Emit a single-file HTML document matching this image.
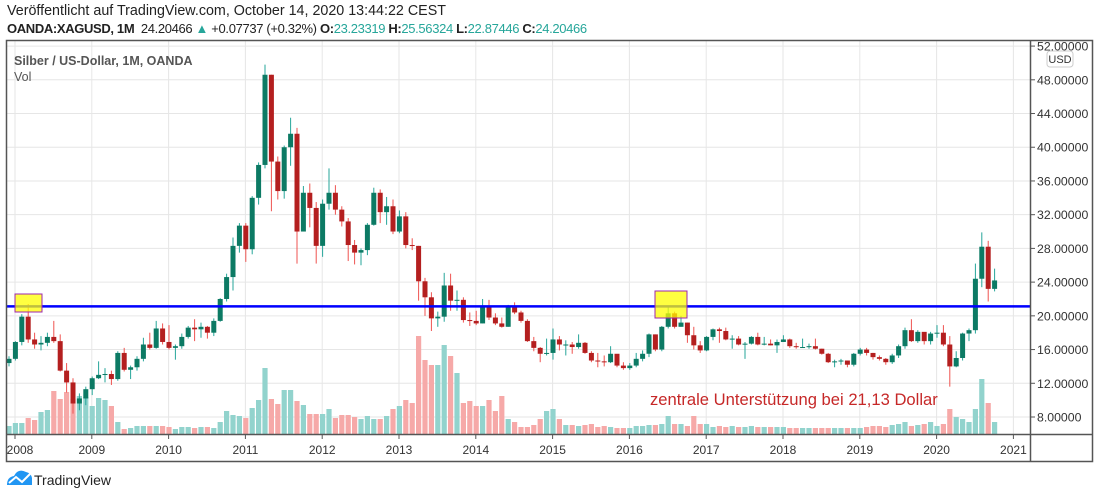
<!DOCTYPE html>
<html><head><meta charset="utf-8">
<style>
body{margin:0;width:1100px;height:498px;background:#fff;overflow:hidden;font-family:"Liberation Sans","DejaVu Sans",sans-serif;}
#hdr1{position:absolute;left:7px;top:3px;font-size:14.3px;color:#222;}
#hdr2{position:absolute;left:7px;top:21px;font-size:13px;letter-spacing:-0.35px;color:#222;}
#hdr2 b{font-weight:bold}
.g{color:#26a69a}
svg{position:absolute;left:0;top:0}
</style></head>
<body>
<div id="hdr1">Veröffentlicht auf TradingView.com, October 14, 2020 13:44:22 CEST</div>
<div id="hdr2"><b>OANDA:XAGUSD, 1M</b>&nbsp; 24.20466 <span class="g">▲</span> +0.07737 (+0.32%) <b>O:</b><span class="g">23.23319</span> <b>H:</b><span class="g">25.56324</span> <b>L:</b><span class="g">22.87446</span> <b>C:</b><span class="g">24.20466</span></div>
<svg id="chart" width="1100" height="498"></svg>
<script>
const closes=[14.9,
16.9,19.9,17.2,16.6,16.8,17.5,17.0,13.5,12.1,9.6,10.2,11.3,
12.6,13.0,13.1,12.5,15.6,13.6,13.9,14.9,16.6,16.2,18.5,16.9,
16.2,16.4,17.5,18.6,18.4,18.7,18.0,19.4,22.0,24.6,28.3,30.7,
27.9,34.0,37.9,48.6,38.3,34.8,40.0,41.6,30.0,34.6,32.8,28.3,
33.3,34.6,32.6,31.2,28.4,27.5,27.8,30.8,34.6,32.3,33.0,30.0,
31.8,28.4,28.3,24.1,22.2,19.7,19.9,23.6,21.8,21.9,19.5,19.4,
19.1,21.2,19.8,19.1,18.7,21.0,20.4,19.4,17.0,16.2,15.5,15.6,
17.2,16.6,16.6,16.3,16.8,15.6,14.7,14.6,14.5,15.5,14.1,13.8,
14.1,14.9,15.5,17.8,16.0,18.7,20.3,18.7,19.2,17.7,16.5,15.9,
17.5,18.4,18.2,17.2,17.3,16.6,16.7,17.5,16.6,16.7,16.5,16.9,
17.2,16.4,16.3,16.3,16.4,16.1,15.5,14.5,14.6,14.7,14.2,15.5,
16.0,15.6,15.1,14.9,14.5,15.3,16.4,18.3,17.0,18.1,17.0,17.9,
18.0,16.6,14.0,15.0,17.9,18.3,24.4,28.2,23.2,24.2];
const firstOpen=14.4;
const highs=[15.2,
17.0,20.2,21.4,18.0,17.6,18.0,19.4,17.8,14.4,12.6,10.8,11.6,
12.8,14.6,13.8,13.5,15.8,16.2,14.1,15.2,17.4,18.0,19.4,19.1,
18.9,16.6,17.9,18.8,19.6,19.2,18.8,19.7,22.1,25.0,29.3,31.0,
31.0,34.2,38.2,49.8,48.6,38.9,40.2,43.5,42.3,35.4,35.7,33.5,
33.8,37.5,35.5,33.0,31.6,29.0,28.0,31.0,35.2,35.0,34.1,33.8,
32.5,32.3,29.2,28.3,24.5,22.8,20.5,25.1,25.0,23.0,22.2,20.4,
20.6,22.0,21.9,20.3,19.8,21.3,21.6,20.6,19.6,17.5,16.3,17.3,
18.5,17.6,17.1,16.9,17.8,16.9,15.8,15.6,15.3,16.4,15.2,14.5,
14.4,15.6,15.9,17.9,17.8,18.8,21.1,20.5,20.0,19.2,18.7,17.0,
17.6,18.5,18.6,18.6,17.7,17.6,16.9,17.6,18.0,17.5,17.2,17.2,
17.7,17.3,16.8,17.3,16.7,17.3,16.1,15.6,14.8,14.9,14.7,15.6,
16.2,16.2,15.6,15.3,15.0,15.5,16.6,18.6,19.6,18.3,18.0,18.1,
18.9,18.9,17.6,15.8,18.0,18.5,26.2,29.9,28.9,25.6];
const lows=[14.0,
14.7,16.5,16.8,16.1,15.9,16.4,16.8,13.4,10.9,8.4,8.8,9.4,
10.6,12.5,12.1,11.8,12.3,13.4,12.5,13.5,14.6,16.0,16.1,16.6,
16.0,14.8,16.1,17.3,17.0,17.4,17.3,17.6,19.3,21.7,23.0,27.5,
26.4,27.3,33.2,37.5,32.4,33.8,33.9,37.8,26.2,30.2,30.5,26.2,
27.0,32.6,32.0,30.6,26.5,26.1,26.0,27.2,30.7,31.0,30.8,29.7,
29.8,28.0,27.8,21.8,20.0,18.2,18.7,19.3,20.6,20.6,19.2,18.8,
18.9,19.1,19.5,18.9,18.6,18.7,20.2,19.2,16.9,15.8,14.5,15.3,
14.8,15.9,15.3,15.5,16.1,15.5,14.5,13.9,14.0,14.4,13.9,13.6,
13.6,13.9,14.6,15.1,15.8,15.8,18.5,18.5,18.7,16.8,16.0,15.6,
15.8,17.1,16.8,17.1,16.1,16.5,14.9,16.6,16.5,16.5,16.5,15.6,
16.9,16.2,16.1,16.2,16.1,16.0,15.4,14.4,13.9,14.2,13.9,14.0,
15.3,15.3,14.8,14.7,14.2,14.3,15.0,16.1,16.9,16.8,16.6,16.6,
17.4,16.4,11.6,13.9,14.7,17.0,17.9,23.4,21.7,22.9];
const volumes=[8,
11,11,16,14,22,24,43,35,42,35,38,37,
28,36,34,28,12,5,6,8,8,8,8,8,
7,5,7,7,6,7,7,6,12,23,19,18,
16,26,34,66,35,30,44,44,33,29,20,20,
20,25,16,19,19,17,15,18,15,15,18,25,
28,34,31,98,74,69,69,89,78,61,31,33,
28,28,34,23,38,15,12,7,7,9,15,23,
25,15,9,9,8,9,10,7,8,7,6,6,
6,8,8,9,9,10,18,10,10,8,18,10,
10,7,8,7,8,7,7,8,7,7,7,7,
7,6,6,6,6,6,6,6,6,6,6,6,
6,7,8,8,7,9,10,12,8,9,10,12,
8,10,25,17,15,12,25,55,31,12];
const yearLabels=["2008","2009","2010","2011","2012","2013","2014","2015","2016","2017","2018","2019","2020","2021"];
const priceTicks=[8,12,16,20,24,28,32,36,40,44,48,52];
const supportLevel=21.13;

const NS="http://www.w3.org/2000/svg";
const svg=document.getElementById('chart');
const L=6,R=1030,T=40,B=434;
function xOf(i){return 9+i*6.4;}
function yOf(p){return 417-(p-8)*8.43;}
function vY(v){return 434-v;}
function mk(tag,attrs,parent){const e=document.createElementNS(NS,tag);for(const k in attrs)e.setAttribute(k,attrs[k]);(parent||svg).appendChild(e);return e;}
const grid=mk('g',{});


priceTicks.forEach(p=>{const y=yOf(p);if(y>T)mk('line',{x1:L,x2:R,y1:y,y2:y,stroke:'#e6e6e6','stroke-width':1},grid);});
yearLabels.forEach((t,k)=>{const x=xOf(k*12+1)-0.4;if(x<R)mk('line',{x1:x,x2:x,y1:T,y2:B,stroke:'#e6e6e6','stroke-width':1},grid);});
const vg=mk('g',{});


closes.forEach((c,i)=>{const o=i?closes[i-1]:firstOpen;const y=vY(volumes[i]);
const r=mk('rect',{x:xOf(i)-2.6,y:y,width:5.2,height:434-y,fill:c>=o?'#92d3cd':'#f6a9a8'},vg);

});
const cg=mk('g',{});


closes.forEach((c,i)=>{const o=i?closes[i-1]:firstOpen;const up=c>=o;const col=up?'#0c7a64':'#b41f1f';const x=xOf(i);
const g=mk('g',{},cg);


mk('line',{x1:x,x2:x,y1:yOf(highs[i]),y2:yOf(lows[i]),stroke:up?'#26a69a':'#ef5350','stroke-width':1},g);
const yt=yOf(Math.max(o,c)),yb=yOf(Math.min(o,c));
mk('rect',{x:x-2.5,y:yt,width:5,height:Math.max(1,yb-yt),fill:col},g);});
const sy=yOf(supportLevel);
const sl=mk('line',{x1:L,x2:R,y1:sy,y2:sy,stroke:'#0000ff','stroke-width':2.5});


const b1=mk('rect',{x:15,y:294,width:27,height:18,fill:'rgba(255,255,0,0.75)',stroke:'#9c27b0','stroke-width':1});


const b2=mk('rect',{x:655,y:291,width:32,height:27,fill:'rgba(255,255,0,0.75)',stroke:'#9c27b0','stroke-width':1});


const ann=mk('text',{x:650,y:405,fill:'#c62828','font-size':16.6,'font-family':'Liberation Sans, DejaVu Sans, sans-serif'});
ann.textContent='zentrale Unterstützung bei 21,13 Dollar';


const fr=mk('g',{});


mk('rect',{x:6.5,y:40.5,width:1086,height:421,fill:'none',stroke:'#555','stroke-width':1.5},fr);
mk('line',{x1:1030.5,x2:1030.5,y1:40,y2:462,stroke:'#555','stroke-width':1.5},fr);
mk('line',{x1:6,x2:1093,y1:434.5,y2:434.5,stroke:'#555','stroke-width':1.5},fr);
const ya=mk('g',{});


priceTicks.forEach(p=>{const y=yOf(p);mk('line',{x1:1030,x2:1035,y1:y,y2:y,stroke:'#555'},ya);
if(y>40){const t=mk('text',{x:1037,y:y+4.5,'font-size':12.3,fill:'#333','font-family':'Liberation Sans, DejaVu Sans, sans-serif'},ya);t.textContent=p.toFixed(5);

}});
mk('rect',{x:1047,y:51,width:26,height:16,rx:3,fill:'#fff',stroke:'#ccc'},ya);
const usd=mk('text',{x:1060,y:63,'font-size':11,fill:'#333','text-anchor':'middle','font-family':'Liberation Sans, sans-serif'},ya);usd.textContent='USD';


const xa=mk('g',{});


yearLabels.forEach((t,k)=>{const x=xOf(k*12+1)-0.4;mk('line',{x1:x,x2:x,y1:434,y2:439,stroke:'#555'},xa);
const tx=mk('text',{x:Math.max(x,20),y:454,'font-size':12,fill:'#333','text-anchor':'middle','font-family':'Liberation Sans, sans-serif'},xa);tx.textContent=t;

});
const t1=mk('text',{x:14,y:65,'font-size':12.5,'font-weight':'bold',fill:'#555','font-family':'Liberation Sans, sans-serif'});t1.textContent='Silber / US-Dollar, 1M, OANDA';


const t2=mk('text',{x:14,y:81,'font-size':12.5,fill:'#555','font-family':'Liberation Sans, sans-serif'});t2.textContent='Vol';


const lg=mk('g',{});


mk('path',{d:'M7 485 Q7 477 14 476 Q18 468 26 472 Q31 473 32 478 L32 485 Z',fill:'#2196f3'},lg);
mk('path',{d:'M9 483 L16 477 L22 482 L30 474',stroke:'#fff','stroke-width':2,fill:'none'},lg);
const lt=mk('text',{x:34,y:485,'font-size':14,fill:'#222','font-family':'Liberation Sans, sans-serif'},lg);lt.textContent='TradingView';
</script>
</body></html>
